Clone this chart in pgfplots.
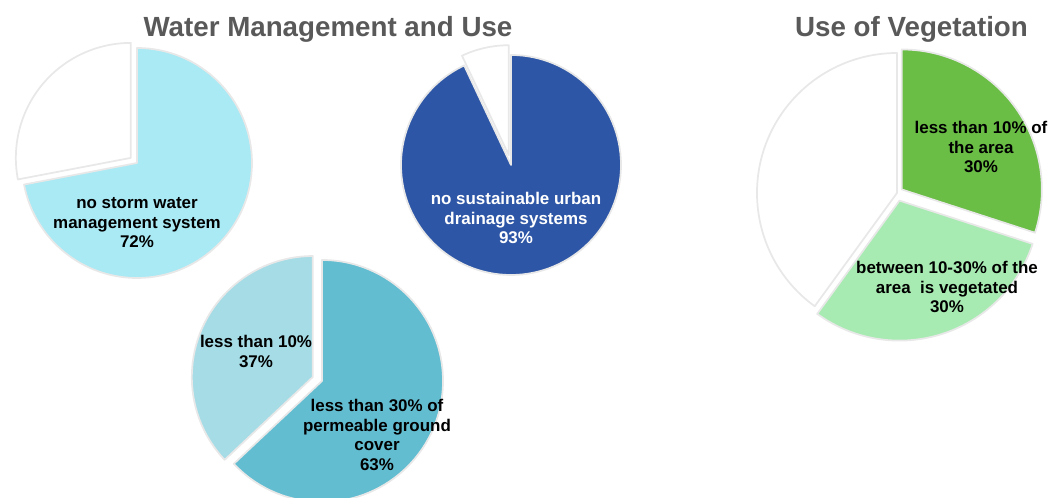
\documentclass[border=0pt]{standalone}
\usepackage{pgfplots}
\pgfplotsset{compat=1.18}
\usepackage{fontspec}
\setmainfont{Liberation Sans}
\definecolor{skyb}{HTML}{A9EAF5}
\definecolor{darkb}{HTML}{2E56A6}
\definecolor{medb}{HTML}{63BDD1}
\definecolor{lightb}{HTML}{A6DCE6}
\definecolor{grn}{HTML}{6ABD45}
\definecolor{lgrn}{HTML}{A8EBB2}
\definecolor{ttl}{HTML}{595959}
% slice: cx cy radius(pt) start end explode(pt) colour
\newcommand{\slice}[7]{%
  \filldraw[fill=#7, draw=black!9, line width=1.3pt, line join=round]
    (axis cs:#1,#2) ++({(#4+#5)/2}:#6pt) -- ++(#4:#3pt)
    arc[start angle=#4, end angle=#5, radius=#3pt] -- cycle;}
\newcommand{\lab}{\fontsize{12.7}{14.6}\selectfont\bfseries}
\newcommand{\ttlfont}{\fontsize{20.8}{24}\selectfont\bfseries}
\begin{document}
\begin{tikzpicture}
\begin{axis}[x=0.75pt, y=0.75pt, xmin=0, xmax=1054, ymin=0, ymax=498,
  hide axis, clip=true]
\addplot[draw=none, forget plot] coordinates {(0,0) (1054,498)};
% Pie 1: 72 / 28  (start 90, clockwise)
\slice{137}{335}{86.25}{90}{-169.2}{0}{skyb}
\slice{137}{335}{86.25}{-169.2}{-270}{6}{white}
% Pie 2: 93 / 7
\slice{511}{333}{82.5}{90}{-244.8}{0}{darkb}
\slice{511}{333}{82.5}{-244.8}{-270}{7.5}{white}
% Pie 3: 63 / 37
\slice{322}{117}{90.75}{90}{-136.8}{0}{medb}
\slice{322}{117}{90.75}{-136.8}{-270}{7.5}{lightb}
% Pie 4: 30 / 30 / 40
\slice{897}{305}{105}{90}{-18}{4.5}{grn}
\slice{897}{305}{105}{-18}{-126}{6}{lgrn}
\slice{897}{305}{105}{-126}{-270}{0}{white}
% labels
\node[font=\lab, align=center] at (axis cs:137,275) {no storm water\\management system\\72\%};
\node[font=\lab, align=center, text=white] at (axis cs:516,280) {no sustainable urban\\drainage systems\\93\%};
\node[font=\lab, align=center] at (axis cs:256,146.5) {less than 10\%\\37\%};
\node[font=\lab, align=center] at (axis cs:377,63) {less than 30\% of\\permeable ground\\cover\\63\%};
\node[font=\lab, align=center] at (axis cs:981,351) {less than 10\% of\\the area\\30\%};
\node[font=\lab, align=center] at (axis cs:947,211) {between 10-30\% of the\\area\ \ is vegetated\\30\%};
% titles
\node[font=\ttlfont, text=ttl] at (axis cs:328,468.5) {Water Management and Use};
\node[font=\ttlfont, text=ttl] at (axis cs:911.5,468.5) {Use of Vegetation};
\end{axis}
\end{tikzpicture}
\end{document}
